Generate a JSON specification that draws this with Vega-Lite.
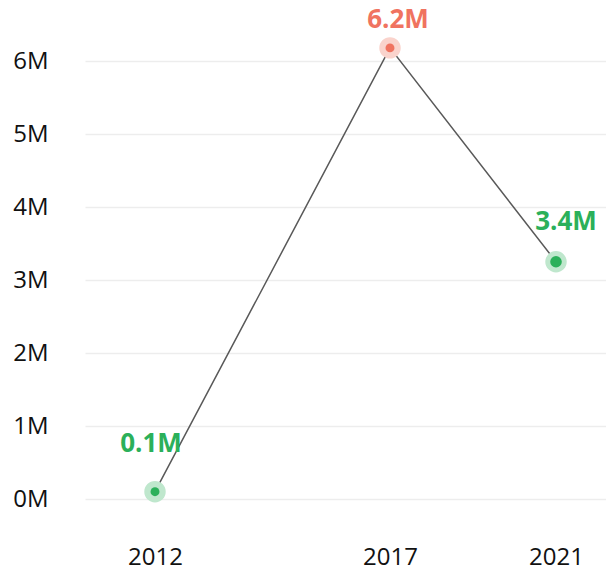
{
  "$schema": "https://vega.github.io/schema/vega-lite/v6.json",
  "autosize": {"type": "none"},
  "width": 521,
  "height": 499,
  "padding": {"left": 85, "top": 0, "right": 0, "bottom": 73},
  "background": "white",
  "config": {"view": {"stroke": null}, "font": "Open Sans"},
  "data": {"values": [
    {"year": 2012, "value": 100000, "label": "0.1M", "kind": "normal"},
    {"year": 2017, "value": 6180000, "label": "6.2M", "kind": "max"},
    {"year": 2021, "value": 3250000, "label": "3.4M", "kind": "normal"}
  ]},
  "encoding": {
    "x": {"field": "year", "type": "quantitative",
      "scale": {"domain": [2010.51, 2012, 2017, 2021, 2022.2], "range": [0, 70, 305, 471, 521], "nice": false, "zero": false},
      "axis": {"values": [2012, 2017, 2021], "format": "d", "title": null, "grid": false, "domain": false, "ticks": false,
        "labelFontSize": 24, "labelColor": "#111", "labelPadding": 46, "labelFont": "Open Sans"}},
    "y": {"field": "value", "type": "quantitative",
      "scale": {"domain": [0, 6836000], "nice": false, "zero": true},
      "axis": {"values": [0, 1000000, 2000000, 3000000, 4000000, 5000000, 6000000], "labelExpr": "datum.value/1000000 + 'M'",
        "title": null, "domain": false, "ticks": false, "grid": true, "gridColor": "#ededed", "gridWidth": 1.5,
        "labelFontSize": 24, "labelColor": "#111", "labelPadding": 37, "labelFont": "Open Sans"}}
  },
  "layer": [
    {"mark": {"type": "line", "color": "#595959", "strokeWidth": 1.5}},
    {"mark": {"type": "circle", "opacity": 1, "size": 460},
      "encoding": {"color": {"condition": {"test": "datum.kind == 'max'", "value": "#fad3cc"}, "value": "#bfe7cd"}}},
    {"mark": {"type": "circle", "opacity": 1},
      "encoding": {
        "color": {"condition": {"test": "datum.kind == 'max'", "value": "#f07360"}, "value": "#2bb05a"},
        "size": {"condition": {"test": "datum.year == 2021", "value": 135}, "value": 80}}},
    {"transform": [{"filter": "datum.year == 2012"}],
      "mark": {"type": "text", "fontSize": 26, "fontWeight": "bold", "dx": -4, "dy": -48, "font": "Open Sans"},
      "encoding": {"text": {"field": "label"}, "color": {"value": "#2bb05a"}}},
    {"transform": [{"filter": "datum.year == 2017"}],
      "mark": {"type": "text", "fontSize": 26, "fontWeight": "bold", "dx": 8, "dy": -28, "font": "Open Sans"},
      "encoding": {"text": {"field": "label"}, "color": {"value": "#f07360"}}},
    {"transform": [{"filter": "datum.year == 2021"}],
      "mark": {"type": "text", "fontSize": 26, "fontWeight": "bold", "dx": 10, "dy": -40, "font": "Open Sans"},
      "encoding": {"text": {"field": "label"}, "color": {"value": "#2bb05a"}}}
  ]
}
